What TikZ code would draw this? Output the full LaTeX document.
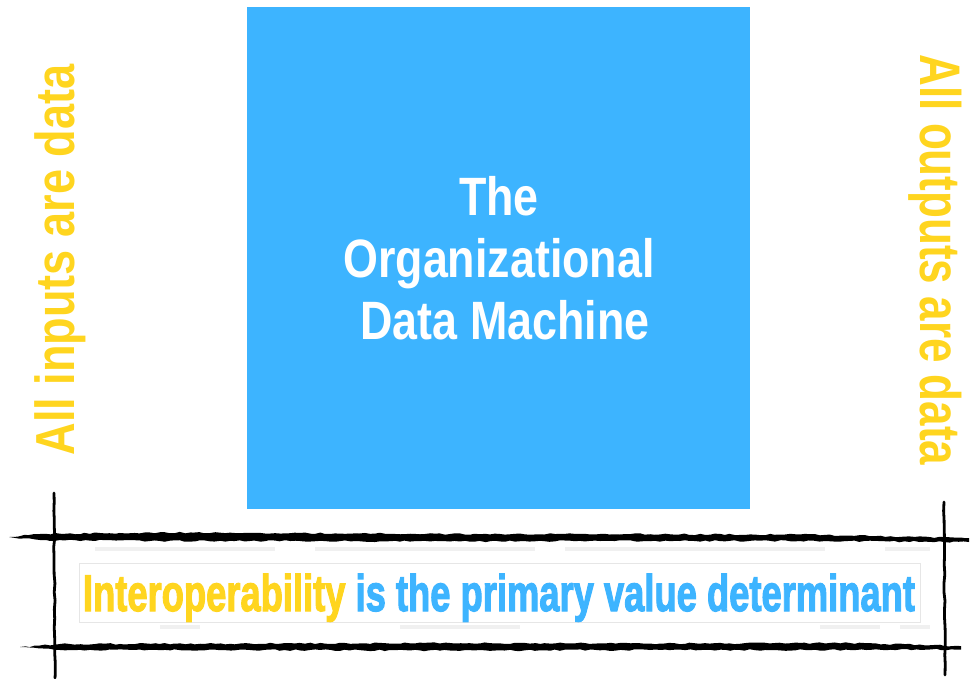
\documentclass[tikz,border=0pt]{standalone}
\usepackage{fontspec}
\setmainfont{Liberation Sans}
\newfontfamily\heavy{Liberation Sans Bold}[FakeBold=2.5]
\usetikzlibrary{decorations.pathmorphing}
\definecolor{machineblue}{HTML}{3DB4FF}
\definecolor{datayellow}{HTML}{FFD51F}
\definecolor{faintgray}{HTML}{E6E6E6}
\definecolor{texturegray}{HTML}{F0F0F0}
\tikzset{
  brush/.style={line width=#1, line cap=round, decorate,
    decoration={random steps, segment length=9pt, amplitude=0.6pt}},
  roughfill/.style={fill=black, decorate,
    decoration={random steps, segment length=5pt, amplitude=0.8pt}},
  sidetext/.style={text=datayellow, inner sep=0pt, font=\fontsize{55}{60}\selectfont\bfseries},
  machinetext/.style={text=white, inner sep=0pt, font=\fontsize{54}{62}\selectfont\bfseries},
}
\begin{document}
\begin{tikzpicture}[x=1pt,y=-1pt]
\useasboundingbox (0,0) rectangle (971,679);
\fill[white] (0,0) rectangle (971,679);

% machine box
\fill[machineblue] (247,7) rectangle (750,509);
\node[machinetext, anchor=base] (t1) at (499,215) {\scalebox{0.83}[1]{The}};
\node[machinetext, anchor=base] (t2) at (499,277) {\scalebox{0.83}[1]{Organizational}};
\node[machinetext, anchor=base] (t3) at (505,339) {\scalebox{0.83}[1]{Data Machine}};

% side texts
\node[sidetext, rotate=90, anchor=base] (inputs) at (74,260) {\scalebox{0.82}[1]{All inputs are data}};
\node[sidetext, rotate=-90, anchor=base] (outputs) at (920,260) {\scalebox{0.80}[1.04]{All outputs are data}};

% faint texture lines
\draw[texturegray, line width=4pt, dash pattern=on 180pt off 40pt on 220pt off 30pt on 260pt off 60pt] (95,549) -- (930,549);
\draw[texturegray, line width=4pt, dash pattern=on 40pt off 200pt on 120pt off 300pt on 60pt off 20pt] (160,627) -- (930,627);

% inner box
\draw[faintgray, line width=1pt, fill=white] (79,563) rectangle (920,622);
\node[anchor=base, inner sep=0pt, font=\heavy\fontsize{46}{50}\selectfont] (claim) at (499,611)
  {\scalebox{0.79}[1.12]{\textcolor{datayellow}{Interoperability} \textcolor{machineblue}{is the primary value determinant}}};

% brush frame
\coordinate (tl) at (9,537);
\coordinate (tr) at (969,538);
\coordinate (bl) at (20,647);
\coordinate (br) at (961,646);
\coordinate (lt) at (54,493);
\coordinate (lb) at (55,678);
\coordinate (rt) at (944,502);
\coordinate (rb) at (945,675);

\fill[roughfill] (tl) -- (40,534) -- (150,532.5) -- (300,533) -- (450,534) -- (600,534) -- (800,534.5) -- (tr)
  -- (969,542) -- (800,541) -- (600,541) -- (450,541.5) -- (300,541) -- (150,541) -- (40,540) -- cycle;
\fill[roughfill] (bl) -- (60,644) -- (250,643.5) -- (450,643) -- (650,643.5) -- (850,643) -- (br)
  -- (961,649.5) -- (850,650) -- (650,650) -- (450,650.5) -- (250,650) -- (60,650) -- cycle;
\draw[brush=2.8pt] (lt) -- (lb);
\draw[brush=2.8pt] (rt) -- (rb);
\end{tikzpicture}
\end{document}
